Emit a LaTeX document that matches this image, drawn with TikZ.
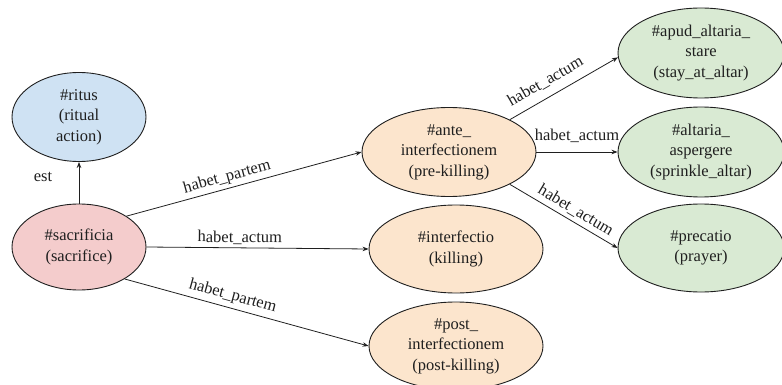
\documentclass[tikz,border=0pt]{standalone}
\usepackage{fontspec}
\setmainfont{Liberation Serif}
\newfontfamily\tnr{Liberation Serif}
\usetikzlibrary{shapes.geometric,arrows.meta}
\definecolor{cblue}{HTML}{CFE2F3}
\definecolor{cpink}{HTML}{F4CCCC}
\definecolor{corange}{HTML}{FCE5CD}
\definecolor{cgreen}{HTML}{D9EAD3}
\definecolor{cline}{HTML}{1F1F1F}
\begin{document}
\begin{tikzpicture}[x=1pt,y=-1pt,
  every node/.style={font=\tnr\fontsize{16.5}{20.5}\selectfont, text=cline},
  ell/.style={ellipse, draw=cline, line width=0.9pt, inner sep=0pt, align=center},
  conn/.style={draw=cline, line width=0.8pt, -{Stealth[length=6pt,width=4.5pt]}},
  lbl/.style={sloped, above=2pt, inner sep=1pt}
]
\useasboundingbox (0,0) rectangle (782,385);
\node[ell, fill=cblue, minimum width=134pt, minimum height=89pt] (ritus) at (79,117) {\#ritus\\(ritual\\action)};
\node[ell, fill=cpink, minimum width=134pt, minimum height=86pt] (sac) at (79,247) {\#sacrificia\\(sacrifice)};
\node[ell, fill=corange, minimum width=174pt, minimum height=89pt] (ante) at (449,152) {\#ante\_\\interfectionem\\(pre-killing)};
\node[ell, fill=corange, minimum width=174pt, minimum height=88pt] (interf) at (456,249) {\#interfectio\\(killing)};
\node[ell, fill=corange, minimum width=174pt, minimum height=88pt] (post) at (456,346) {\#post\_\\interfectionem\\(post-killing)};
\node[ell, fill=cgreen, minimum width=166pt, minimum height=90pt] (apud) at (701,53) {\#apud\_altaria\_\\stare\\(stay\_at\_altar)};
\node[ell, fill=cgreen, minimum width=166pt, minimum height=90pt] (alt) at (701,152) {\#altaria\_\\aspergere\\(sprinkle\_altar)};
\node[ell, fill=cgreen, minimum width=166pt, minimum height=88pt] (prec) at (701,248) {\#precatio\\(prayer)};

\draw[conn] (sac.north) -- (ritus.south);
\node (est) at (43,177) {est};
\draw[conn] (sac.33) -- node[lbl, pos=0.44] {habet\_partem} (ante.west);
\draw[conn] (sac.east) -- node[lbl, pos=0.42] {habet\_actum} (interf.west);
\draw[conn] (sac.-35) -- node[lbl, pos=0.43, above=1pt] {habet\_partem} (post.west);
\draw[conn] (ante.28) -- node[lbl, pos=0.40, above=5pt] {habet\_actum} (apud.183);
\draw[conn] (ante.east) -- node[lbl, pos=0.5, above=6pt] {habet\_actum} (alt.west);
\draw[conn] (ante.-28) -- node[lbl, pos=0.56, above=1pt] {habet\_actum} (prec.west);
\end{tikzpicture}
\end{document}
